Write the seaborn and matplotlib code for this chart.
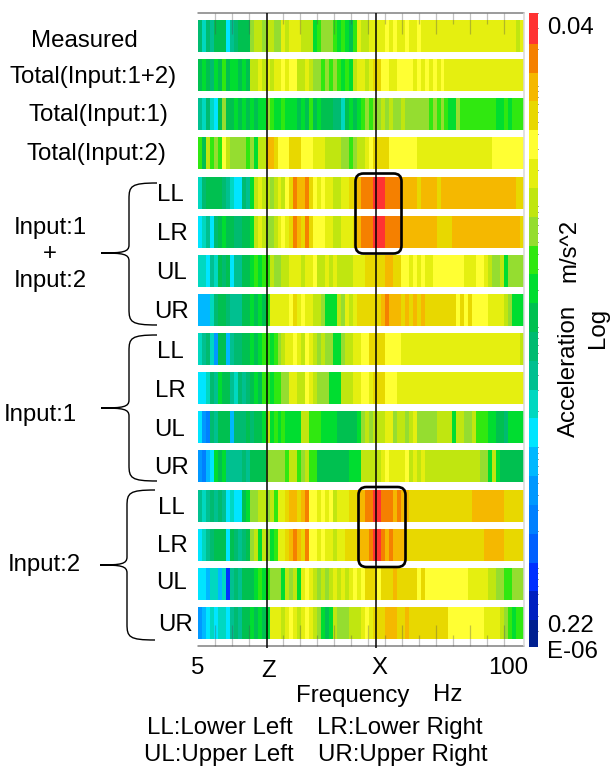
import numpy as np
import pandas as pd
import seaborn as sns
import matplotlib
matplotlib.use("Agg")
import matplotlib.pyplot as plt
from matplotlib.colors import ListedColormap
from matplotlib.patches import FancyBboxPatch, PathPatch
from matplotlib.path import Path

sns.set_theme(style="white")
plt.rcParams["font.family"] = ["Liberation Sans", "DejaVu Sans"]

# colour levels of the scale, top (strongest) to bottom (weakest)
LEVEL_KEYS = "abcdefghijklmnopqrstuv"
LEVEL_COLORS = ["#ff3333", "#f58000", "#f5b800", "#e8d800", "#ffff33", "#e5ef10",
                "#c0e610", "#95dd30", "#30e810", "#00dd30", "#00c050", "#00bb70",
                "#00c090", "#00d8c0", "#00e5ff", "#00b8ff", "#0098ff", "#0080ff",
                "#0060ff", "#0030ff", "#0020c0", "#002090"]

# level per frequency bin, 5 Hz to 100 Hz
measured      = "lnlmkkkoml" "kkkhgghggh" "hfgfffgggj" "ihhhijijki" "fggffffefe" "ffeffeffff" "ffffffffff" "ffffffffff" "gf"
total_12      = "kjkljkikjj" "kjkggfgfgf" "fefeeggfgh" "hihihijijg" "ffgfddeeff" "eeeefefefe" "feffffffff" "ffffffffff" "ff"
total_1       = "mnlnokhkkj" "kjkjkjjhij" "jijjjkjkik" "jkkkllnkjk" "jihihhghgh" "hghhhhhhih" "ihijjhiiii" "iiiiijjiji" "ii"
total_2       = "ikgihieghh" "hhihjggccd" "eeedddeeef" "ffgggghhih" "ggfeddddee" "eeeeefffff" "ffffffffff" "ffffeeeeee" "ee"
both_ll       = "nlkkkklmno" "olmjgfgghg" "fgedbccbde" "feffggffdd" "cbbbaaabbb" "bccccdcccc" "dccccccccc" "cccccccccc" "dd"
both_lr       = "onmolkjkkl" "lkkjgfghhg" "fefdbcdbde" "eeffggfffd" "cbbbaaabbb" "bccccccccc" "ddddcccccc" "cccccccccc" "cd"
both_ul       = "nnomnklkom" "mkkjijiigh" "hggfffgffe" "ggfgfggggf" "ffdddddccd" "deefefeffe" "eeeeeeefff" "eefghhgjhh" "hh"
both_ur       = "pppnlkklmm" "mkkjkjkiff" "fffedfeffg" "ghjjjghfgf" "ddddddcbcc" "cdcdcdcddd" "dddddedede" "eeeffffghj" "jj"
one_ll        = "nmlnqkkpml" "lkkjkjiiji" "hgffefgefg" "hghhjjhggf" "feeddddeee" "efffffffff" "ffffffffff" "ffffffffff" "fg"
one_lr        = "oonlmjkkmn" "lmlkjkiiji" "ihhffggefg" "hhhjjjgggf" "feefdddeee" "ffffffffff" "ffffffffff" "ffffffffff" "ff"
one_ul        = "oqrlmkkkpl" "llklkkjgji" "jijjjjggii" "ijjjjkkkkk" "jhghgggffh" "gghgfhhhhh" "ggggjgghhg" "iiijjkkljj" "jj"
one_ur        = "qrpojkjmmm" "mlmkkkkhhh" "hhiggihgii" "kkkkkkkkjj" "jgggggfeff" "ffegfgfggg" "gggggggggg" "ghhjgjkkkk" "kk"
two_ll        = "mnmlmlmono" "okjhhgghgi" "ffdccdcbee" "fefegfffdd" "ccbbaabbbc" "bccddddddd" "dddddddddc" "cccccccddd" "dd"
two_lr        = "onmlkkkokl" "mlkhgjghji" "ffdcbcdbee" "feffgffddd" "cccbaabcbc" "ccdddddddd" "dddddddddd" "ddcccccddd" "dd"
two_ul        = "oopnnpntml" "mkkkjijihh" "hjghgjfefg" "hghgfgfgfe" "fedddedddc" "dddddedeee" "eeeeeeeeff" "fffgghhiih" "hh"
two_ur        = "qpononnoml" "mkkjkjkjff" "fgfefgfefg" "hjkjghhhgg" "gfefdddccc" "ddcddddddd" "dddeeeeeee" "eeffffghij" "ii"

rows = [measured, total_12, total_1, total_2,
        both_ll, both_lr, both_ul, both_ur,
        one_ll, one_lr, one_ul, one_ur,
        two_ll, two_lr, two_ul, two_ur]

row_labels = ["Measured", "Total(Input:1+2)", "Total(Input:1)", "Total(Input:2)",
              "LL", "LR", "UL", "UR", "LL", "LR", "UL", "UR", "LL", "LR", "UL", "UR"]
scale_min, scale_max = 0.22e-6, 0.04

W, H = 612, 769
fig = plt.figure(figsize=(W / 100, H / 100), dpi=100, facecolor="white")


def px_axes(x0, y0, x1, y1, **kw):
    return fig.add_axes([x0 / W, 1 - y1 / H, (x1 - x0) / W, (y1 - y0) / H], **kw)


cmap = ListedColormap(LEVEL_COLORS[::-1])
n_levels = len(LEVEL_KEYS)
cax = px_axes(529, 13, 538, 647)
top0, pitch, band = 20.0, 39.13, 32.0
for i, row in enumerate(rows):
    vals = [n_levels - 1 - LEVEL_KEYS.index(c) for c in row]
    df = pd.DataFrame([vals])
    y0 = top0 + i * pitch
    ax = px_axes(198, y0, 524, y0 + band)
    sns.heatmap(df, ax=ax, cmap=cmap, vmin=-0.5, vmax=n_levels - 0.5,
                xticklabels=False, yticklabels=False,
                cbar=(i == 0), cbar_ax=cax if i == 0 else None)
    ax.set_xlabel("")
    ax.set_ylabel("")

# colour bar: log ticks on the right edge
for s in cax.spines.values():
    s.set_visible(False)
for c in cax.collections:
    c.set_edgecolor("face")
lo, hi = np.log10(scale_min), np.log10(scale_max)
tick_vals = [m * 10.0 ** e for e in range(-7, -1) for m in range(1, 10)]
tick_vals = [v for v in tick_vals if scale_min <= v <= scale_max]
tick_pos = [(np.log10(v) - lo) / (hi - lo) * n_levels - 0.5 for v in tick_vals]
cax.yaxis.set_ticks_position("right")
cax.set_yticks(tick_pos)
cax.set_yticklabels([])
cax.tick_params(axis="y", direction="in", length=2.2, width=0.6, color="#222222", right=True, left=False)
cax.set_xticks([])

# overlay in pixel coordinates
ov = fig.add_axes([0, 0, 1, 1], facecolor="none")
ov.set_xlim(0, W)
ov.set_ylim(H, 0)
ov.axis("off")

# frame and ticks
ov.plot([198, 524], [13, 13], color="#808080", lw=1.1)
ov.plot([198, 524], [646, 646], color="#808080", lw=1.1)
ov.plot([524, 524], [13, 646], color="#d8d8d8", lw=1.1)
tick_x = 214.7 + 17.0 * np.arange(18)
for k, x in enumerate(tick_x):
    if k == 3:
        continue
    tall = k < 3 or k % 2 == 1
    ln = 21 if tall else 11
    ov.plot([x, x], [13, 13 + ln], color="#505050", lw=0.9, alpha=0.35, solid_capstyle="butt")
    ov.plot([x, x], [646, 646 - ln], color="#505050", lw=0.9, alpha=0.35, solid_capstyle="butt")

# Z and X lines
for x in (267.3, 376.0):
    ov.plot([x, x], [13, 648], color="black", lw=1.1, solid_capstyle="butt")

# rounded boxes
for (x0, y0, x1, y1) in [(355.5, 173.5, 401.5, 253.5), (358.5, 487, 405.5, 567)]:
    ov.add_patch(FancyBboxPatch((x0 + 7, y0 + 7), x1 - x0 - 14, y1 - y0 - 14,
                                boxstyle="round,pad=7,rounding_size=8",
                                fc="none", ec="black", lw=1.9))


# braces
def brace(top, tip, bottom, xs=129, xe=157, xt=101):
    v = [(xe, top), (xs + 2, top), (xs, top + 3), (xs, top + 16),
         (xs, tip - 8),
         (xs, tip - 1), (xs - 6, tip), (xt, tip),
         (xs - 6, tip), (xs, tip + 1), (xs, tip + 8),
         (xs, bottom - 16),
         (xs, bottom - 3), (xs + 2, bottom), (xe, bottom)]
    c = [Path.MOVETO, Path.CURVE4, Path.CURVE4, Path.CURVE4,
         Path.LINETO,
         Path.CURVE4, Path.CURVE4, Path.CURVE4,
         Path.CURVE4, Path.CURVE4, Path.CURVE4,
         Path.LINETO,
         Path.CURVE4, Path.CURVE4, Path.CURVE4]
    ov.add_patch(PathPatch(Path(v, c), fc="none", ec="black", lw=1.0))


brace(183, 253, 325)
brace(335, 408, 481)
brace(490, 565, 640, xs=127, xe=155, xt=100)

FS = 17.3
def T(x, y, s, **kw):
    kw.setdefault("ha", "center")
    kw.setdefault("va", "center")
    kw.setdefault("fontsize", FS)
    ov.text(x, y, s, color="black", **kw)


T(84, 41, row_labels[0])
T(93.5, 77, row_labels[1])
T(98.5, 115, row_labels[2])
T(96, 154, row_labels[3])
sub_x = [170, 172, 172, 172, 170, 170, 170, 171, 171, 172, 172, 175]
sub_y = [195, 234, 273, 312, 352, 391, 430, 468, 508, 546, 583, 625]
for lab, x, y in zip(row_labels[4:], sub_x, sub_y):
    T(x, y, lab)
T(50, 228, "Input:1")
T(50, 254, "+")
T(50, 281, "Input:2")
T(40.5, 415, "Input:1")
T(44, 565, "Input:2")

T(198, 668, "5")
T(269, 671, "Z")
T(379, 668, "X")
T(508, 668, "100")
T(296, 696, "Frequency", ha="left")
T(433, 695, "Hz", ha="left")
T(147, 728, "LL:Lower Left", ha="left")
T(317, 728, "LR:Lower Right", ha="left")
T(144, 755, "UL:Upper Left", ha="left")
T(318, 755, "UR:Upper Right", ha="left")
T(571, 28, "0.04")
T(571, 626, "0.22")
T(572, 652, "E-06")
T(569, 371, "Acceleration", rotation=90)
T(569, 250, "m/s^2", rotation=90)
T(598, 328, "Log", rotation=90)

fig.savefig("out.png", dpi=100, facecolor="white")
